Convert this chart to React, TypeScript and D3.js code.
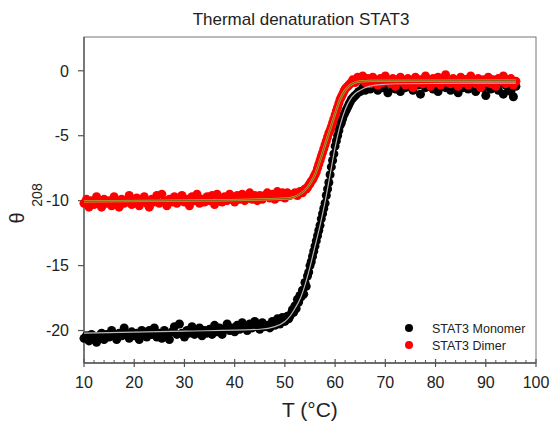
import React from "react";
import * as d3 from "d3";

// temperature grid, 0.5 °C steps
const temps: number[] = [];
for (let t = 10; t <= 96.001; t += 0.5) temps.push(+t.toFixed(1));

// θ208, 10 values per 5 °C block
const monomer = [
  -20.6, -20.4, -20.8, -20.3, -20.5, -20.9, -20.4, -20.2, -20.7, -20.3,
  -20.5, -20.0, -20.4, -20.7, -20.2, -20.4, -19.8, -20.3, -20.6, -20.1,
  -20.4, -20.2, -20.7, -20.0, -20.3, -20.5, -20.0, -20.3, -19.8, -20.5,
  -20.2, -20.6, -20.0, -20.3, -20.7, -20.1, -19.7, -20.3, -19.5, -20.2,
  -20.5, -20.0, -20.2, -19.7, -20.3, -20.1, -19.8, -20.4, -20.0, -20.2,
  -19.9, -20.3, -19.6, -20.1, -19.8, -20.3, -19.9, -19.5, -20.0, -19.8,
  -20.1, -19.6, -19.9, -19.4, -19.8, -20.0, -19.5, -19.8, -19.3, -19.7,
  -19.9, -19.4, -19.7, -19.6, -19.8, -19.3, -19.6, -19.1, -19.5, -19.0,
  -19.3, -18.9, -18.9, -18.4, -18.1, -17.6, -17.3, -16.9, -16.3, -15.8,
  -15.0, -14.3, -13.5, -12.7, -11.9, -11.0, -10.2, -9.1, -8.0, -6.9,
  -5.8, -5.0, -4.2, -3.7, -3.2, -2.8, -2.4, -2.1, -1.9, -1.7,
  -1.6, -1.3, -1.5, -1.1, -1.4, -1.2, -0.9, -1.5, -1.0, -1.3,
  -1.1, -1.7, -0.8, -1.2, -1.4, -0.9, -1.6, -1.0, -1.3, -0.7,
  -1.2, -1.5, -0.9, -1.1, -1.8, -1.0, -1.3, -0.8, -1.2, -1.4,
  -0.9, -1.6, -1.1, -0.6, -1.3, -1.0, -1.5, -0.8, -1.2, -1.7,
  -1.0, -1.3, -0.7, -1.4, -1.1, -0.9, -1.6, -1.2, -0.8, -1.3,
  -1.9, -1.0, -1.4, -0.8, -1.2, -1.5, -0.9, -1.8, -1.1, -1.3,
  -1.6, -2.0, -1.2,
];

// extra monomer readings in the transition, 50.25 … 64.75 °C
const monomerExtraT = [
  50.25, 50.75, 51.25, 51.75, 52.25, 52.75, 53.25, 53.75, 54.25, 54.75,
  55.25, 55.75, 56.25, 56.75, 57.25, 57.75, 58.25, 58.75, 59.25, 59.75,
  60.25, 60.75, 61.25, 61.75, 62.25, 62.75, 63.25, 63.75, 64.25, 64.75,
];
const monomerExtra = [
  -19.0, -19.1, -18.7, -18.6, -18.3, -17.8, -17.4, -17.2, -16.6, -15.5,
  -14.7, -13.9, -13.1, -12.3, -11.4, -10.6, -9.6, -8.6, -7.4, -6.4,
  -5.4, -4.6, -4.0, -3.4, -3.0, -2.6, -2.2, -2.0, -1.8, -1.6,
];

const dimer = [
  -10.2, -9.9, -10.5, -10.0, -10.3, -9.7, -10.1, -10.5, -9.9, -10.2,
  -10.0, -10.4, -9.7, -10.1, -10.5, -9.9, -10.2, -10.0, -9.6, -10.3,
  -10.1, -9.8, -10.4, -10.0, -9.7, -10.2, -10.5, -9.9, -10.1, -9.6,
  -10.2, -9.5, -10.0, -10.4, -9.9, -10.1, -9.7, -10.2, -10.0, -9.6,
  -10.1, -9.9, -10.4, -9.7, -10.0, -9.5, -10.2, -9.9, -10.1, -9.7,
  -10.0, -9.6, -10.3, -9.5, -9.9, -10.1, -9.7, -10.0, -9.5, -9.9,
  -10.1, -9.6, -9.9, -9.5, -10.0, -9.8, -9.4, -9.9, -9.6, -10.0,
  -9.6, -9.9, -9.6, -9.4, -9.8, -9.5, -9.9, -9.3, -9.7, -9.4,
  -9.8, -9.4, -9.6, -9.5, -9.4, -9.6, -9.3, -9.4, -9.1, -9.0,
  -8.7, -8.4, -8.0, -7.5, -6.9, -6.3, -5.7, -5.1, -4.6, -4.0,
  -3.4, -2.8, -2.2, -1.8, -1.4, -1.2, -1.0, -0.7, -0.9, -0.5,
  -0.7, -0.4, -0.9, -0.6, -1.0, -0.5, -0.8, -1.1, -0.6, -0.9,
  -0.4, -0.8, -1.0, -0.6, -1.2, -0.7, -0.5, -0.9, -1.1, -0.6,
  -0.8, -1.3, -0.5, -0.9, -0.7, -1.0, -0.4, -0.8, -1.2, -0.6,
  -0.9, -0.5, -1.1, -0.7, -0.3, -0.9, -1.0, -0.6, -0.8, -1.2,
  -0.5, -0.9, -0.7, -1.1, -0.4, -0.8, -1.0, -0.6, -1.3, -0.7,
  -0.9, -0.5, -1.0, -0.7, -1.2, -0.6, -0.8, -0.4, -1.0, -0.7,
  -0.6, -1.1, -0.8,
];

// extra dimer readings in the transition, 52.25 … 64.75 °C
const dimerExtraT = [
  52.25, 52.75, 53.25, 53.75, 54.25, 54.75, 55.25, 55.75, 56.25, 56.75,
  57.25, 57.75, 58.25, 58.75, 59.25, 59.75, 60.25, 60.75, 61.25, 61.75,
  62.25, 62.75, 63.25, 63.75, 64.25, 64.75,
];
const dimerExtra = [
  -9.5, -9.4, -9.3, -9.2, -9.1, -8.8, -8.5, -8.2, -7.8, -7.2,
  -6.6, -6.0, -5.4, -4.8, -4.3, -3.7, -3.1, -2.5, -2.0, -1.6,
  -1.3, -1.1, -0.9, -0.8, -0.7, -0.6,
];

// fitted curves
const monoFitT = [10, 30, 45, 48, 50, 51, 52, 53, 54, 55, 56, 57, 58, 59, 60, 61, 62, 63, 64, 65, 66, 68, 72, 96];
const monoFitY = [-20.2, -20.05, -19.9, -19.7, -19.3, -18.9, -18.3, -17.6, -16.5, -15.1, -13.5, -11.9, -10.1, -8.0, -5.9, -4.2, -3.0, -2.2, -1.75, -1.5, -1.3, -1.1, -1.0, -0.95];
const dimerFitT = [10, 30, 50, 52, 53, 54, 55, 56, 57, 58, 59, 60, 61, 62, 63, 64, 65, 67, 96];
const dimerFitY = [-10.05, -10.0, -9.85, -9.7, -9.5, -9.2, -8.7, -8.0, -6.9, -5.7, -4.5, -3.3, -2.2, -1.5, -1.1, -0.9, -0.82, -0.78, -0.76];

const xTicks = [10, 20, 30, 40, 50, 60, 70, 80, 90, 100];
const yTicks = [-20, -15, -10, -5, 0];

const W = 553;
const H = 421;
const margin = { top: 37, right: 17, bottom: 58, left: 84 };
const font = "'Liberation Sans', Arial, sans-serif";

export default function App() {
  const innerW = W - margin.left - margin.right;
  const innerH = H - margin.top - margin.bottom;

  const x = d3.scaleLinear().domain([10, 100]).range([0, innerW]);
  const y = d3.scaleLinear().domain([-22.5, 2.6]).range([innerH, 0]);

  const fitPath = (ts: number[], ys: number[]) =>
    d3
      .line<number>()
      .x((d) => x(d))
      .y((d, i) => y(ys[i]))
      .curve(d3.curveMonotoneX)(ts) || "";

  const monoPath = fitPath(monoFitT, monoFitY);
  const dimerPath = fitPath(dimerFitT, dimerFitY);

  const minor = d3.range(10, 100, 2).filter((t) => t % 10 !== 0);
  const axisColor = "#555";
  const r = 4.5;

  const monoPts = temps
    .map((t, i) => [t, monomer[i]])
    .concat(monomerExtraT.map((t, i) => [t, monomerExtra[i]]));
  const dimerPts = temps
    .map((t, i) => [t, dimer[i]])
    .concat(dimerExtraT.map((t, i) => [t, dimerExtra[i]]));

  return (
    <svg
      width={W}
      height={H}
      style={{ position: "absolute", left: 0, top: 0, background: "#fff" }}
      fontFamily={font}
    >
      <text x={301} y={25} textAnchor="middle" fontSize={17} fill="#222">
        Thermal denaturation STAT3
      </text>

      <g transform={`translate(${margin.left},${margin.top})`}>
        {/* frame */}
        <rect width={innerW} height={innerH} fill="none" stroke="#777" strokeWidth={1} />
        <line y1={0} y2={innerH} stroke={axisColor} strokeWidth={1.3} />
        <line x1={0} x2={innerW} y1={innerH} y2={innerH} stroke={axisColor} strokeWidth={1.3} />

        {/* x ticks */}
        {xTicks.map((t) => (
          <g key={t} transform={`translate(${x(t)},${innerH})`}>
            <line y1={-4} y2={4} stroke={axisColor} strokeWidth={1.2} />
            <text y={25} textAnchor="middle" fontSize={16} fill="#222">
              {t}
            </text>
          </g>
        ))}
        {minor.map((t) => (
          <line
            key={"m" + t}
            x1={x(t)}
            x2={x(t)}
            y1={innerH}
            y2={innerH - 3}
            stroke={axisColor}
            strokeWidth={1}
          />
        ))}

        {/* y ticks */}
        {yTicks.map((t) => (
          <g key={t} transform={`translate(0,${y(t)})`}>
            <line x1={-6} x2={0} stroke={axisColor} strokeWidth={1.2} />
            <text x={-15} dy="0.36em" textAnchor="end" fontSize={16} fill="#222">
              {t}
            </text>
          </g>
        ))}

        {/* data points */}
        {monoPts.map((p, i) => (
          <circle key={"mo" + i} cx={x(p[0])} cy={y(p[1])} r={r} fill="#000" />
        ))}
        {dimerPts.map((p, i) => (
          <circle key={"di" + i} cx={x(p[0])} cy={y(p[1])} r={r} fill="#ff0000" />
        ))}

        {/* fits */}
        <path d={monoPath} fill="none" stroke="#b8b8b8" strokeWidth={1.2} />
        <path d={dimerPath} fill="none" stroke="#c4b640" strokeWidth={2.2} />
        <path d={dimerPath} fill="none" stroke="#7f6a1c" strokeWidth={1.3} />

        {/* legend */}
        <circle cx={325} cy={291} r={4} fill="#000" />
        <circle cx={325} cy={308} r={4} fill="#ff0000" />
        <text x={348} y={296} fontSize={12.5} fill="#222">
          STAT3 Monomer
        </text>
        <text x={348} y={313} fontSize={12.5} fill="#222">
          STAT3 Dimer
        </text>
      </g>

      {/* axis labels */}
      <text x={282} y={417} fontSize={21} fill="#222">
        T (°C)
      </text>
      <text x={23.5} y={218} fontSize={20} fill="#222" textAnchor="middle" transform="rotate(-90,23.5,218)">
        θ
      </text>
      <text x={41.5} y={195} fontSize={14} fill="#222" textAnchor="middle" transform="rotate(-90,41.5,195)">
        208
      </text>
    </svg>
  );
}
